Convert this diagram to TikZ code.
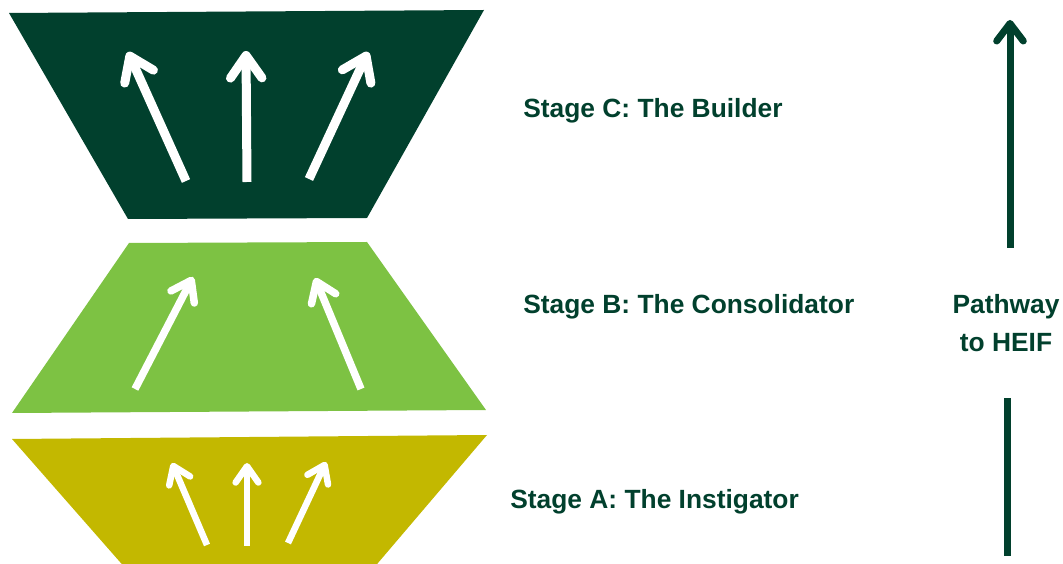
\documentclass[tikz,border=0pt]{standalone}
\usepackage{fontspec}
\setmainfont{Liberation Sans}
\usetikzlibrary{arrows.meta}
\definecolor{deepgreen}{RGB}{1,64,45}
\definecolor{leafgreen}{RGB}{125,194,67}
\definecolor{mustard}{RGB}{195,184,0}

\begin{document}
\begin{tikzpicture}[x=0.02cm,y=-0.02cm,
  riser/.style={white,line width=#1,-{Straight Barb[round,length=0pt 2.5,width=0pt 3.5]}},
  stagetext/.style={deepgreen,font=\bfseries\fontsize{15}{21.6}\selectfont,inner sep=0pt,anchor=west}]
  \useasboundingbox (0,0) rectangle (1063,564);
  % the three stages, top to bottom
  \fill[deepgreen] (9,13)--(484,10)--(367,218)--(128,219)--cycle;
  \fill[leafgreen] (129,243)--(367,242)--(486,410)--(12,413)--cycle;
  \fill[mustard] (12,439)--(487,435)--(372,570)--(127,570)--cycle;
  \draw[riser=0.18cm] (186,181)--(128,52);
  \draw[riser=0.18cm] (247,182)--(246,51);
  \draw[riser=0.18cm] (309,179)--(368,52);
  \draw[riser=0.15cm] (135,389)--(193,277);
  \draw[riser=0.15cm] (361,389)--(315,278);
  \draw[riser=0.13cm] (207,545)--(172,463);
  \draw[riser=0.13cm] (247,546)--(247,463);
  \draw[riser=0.13cm] (288,543)--(326,462);
  \node[stagetext] (stageC) at (523,111) {Stage C: The Builder};
  \node[stagetext] (stageB) at (523,307) {Stage B: The Consolidator};
  \node[stagetext] (stageA) at (510,502) {Stage A: The Instigator};
  % pathway on the right
  \node[stagetext,anchor=center,align=center] (pathway) at (1006,323) {Pathway\\to HEIF};
  \coordinate (pathtop) at (1010,20);
  \coordinate (pathmid) at (1010,248);
  \coordinate (pathlow) at (1007,398);
  \coordinate (pathfoot) at (1007,556);
  \draw[deepgreen,line width=0.14cm,-{Straight Barb[round,length=0pt 2.5,width=0pt 3.8]}] (pathmid)--(pathtop);
  \draw[deepgreen,line width=0.14cm] (pathfoot)--(pathlow);
\end{tikzpicture}
\end{document}
